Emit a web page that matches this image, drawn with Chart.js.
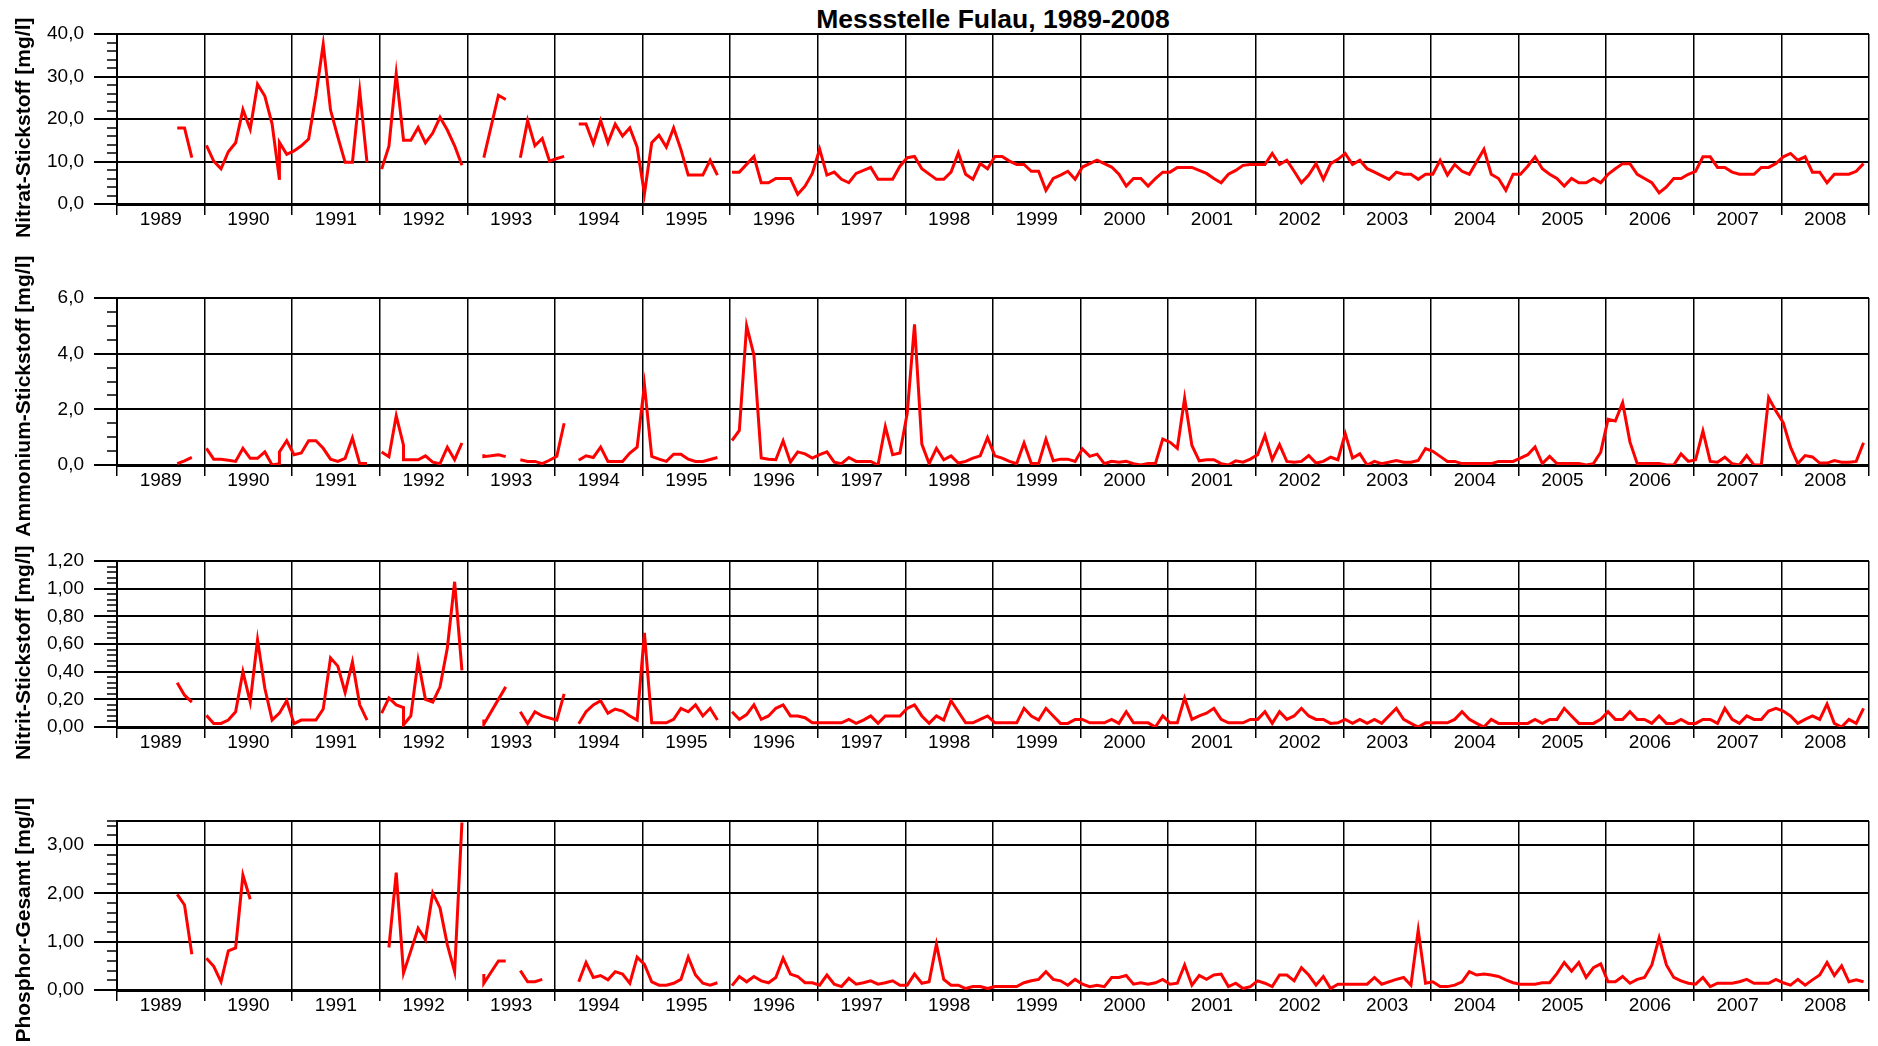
<!DOCTYPE html>
<html lang="de">
<head>
<meta charset="utf-8">
<title>Messstelle Fulau, 1989-2008</title>
<script src="https://cdn.jsdelivr.net/npm/chart.js"></script>
<style>
  html, body { margin: 0; padding: 0; background: #fff; overflow: hidden; }
  body { position: relative; width: 1878px; height: 1046px; }
  #title {
    position: absolute; left: 117px; width: 1752px; top: 4px;
    text-align: center; line-height: 30px; color: #000;
    font: bold 26.5px "Liberation Sans", Arial, Helvetica, sans-serif;
  }
  canvas { position: absolute; left: 0; }
</style>
</head>
<body>
<div id="title">Messstelle Fulau, 1989-2008</div>
<canvas id="nitrat"></canvas>
<canvas id="ammonium"></canvas>
<canvas id="nitrit"></canvas>
<canvas id="phosphor"></canvas>
<script>
// one row per year, one entry per month (Jan..Dec)
//   _      no sample, the line breaks
//   '-'    sample hidden on the straight line, the line continues
//   [a, b] two samples in the same month
const _ = null;

const years = [1989, 1990, 1991, 1992, 1993, 1994, 1995, 1996, 1997, 1998,
               1999, 2000, 2001, 2002, 2003, 2004, 2005, 2006, 2007, 2008];

const nitrat = [
  [_, _, _, _, _, _, _, _, 17.9, 17.9, 10.9, _],
  [13.8, 10.1, 8.3, 12.3, 14.4, 22.2, 17.6, 28.2, 25.4, 18.8, [5.7, 14.5], 11.7],
  [12.5, 13.7, 15.3, 25.6, 37.6, 22.1, 15.8, 9.8, 9.8, 26.6, 9.8, _],
  [8.2, 13.6, 30.7, 15.0, 15.0, 18.0, 14.4, 16.7, 20.4, 17.4, 13.7, 9.1],
  [_, _, 10.9, '-', 25.6, 24.6, _, 10.9, 19.6, 13.7, 15.4, 10.1],
  [10.7, 11.2, _, 18.8, 18.8, 14.2, 19.6, 14.4, 18.8, 16.0, 17.9, 13.4],
  [2.4, 14.4, 16.2, 13.4, 17.9, 12.8, 6.8, 6.8, 6.8, 10.3, 6.8, _],
  [7.5, 7.5, '-', 11.2, 5.0, 5.0, 6.0, 6.0, 6.0, 2.3, 4.2, 7.2],
  [12.9, 6.8, 7.5, 5.8, 5.0, 7.2, '-', 8.6, 5.8, 5.8, 5.8, 8.9],
  [10.9, 11.2, 8.3, '-', 5.8, 5.8, 7.5, 12.0, 7.0, 5.8, 9.5, 8.3],
  [11.2, 11.2, 10.1, 9.3, 9.3, 7.7, 7.7, 3.2, 6.0, 6.8, 7.7, 5.8],
  [8.7, '-', 10.3, 9.5, 8.7, 7.0, 4.2, 6.0, 6.0, 4.2, 6.0, 7.5],
  [7.5, 8.6, 8.6, 8.6, '-', 7.2, 6.0, 5.0, 7.0, 7.9, 9.1, 9.3],
  [9.3, 9.3, 11.9, 9.3, 10.3, 7.7, 5.0, 6.8, 9.5, 5.8, 9.5, 10.5],
  [11.9, 9.3, 10.3, 8.3, 7.5, '-', 5.8, 7.5, 7.0, 7.0, 5.8, 7.0],
  [7.0, 10.3, 6.8, 9.3, 7.7, 7.0, '-', 12.9, 7.0, 6.0, 3.2, 7.0],
  [7.0, 8.9, 11.1, 8.3, 7.0, 6.0, 4.2, 6.0, 5.0, 5.0, 6.0, 5.0],
  [7.0, 8.3, 9.5, 9.5, 7.0, 6.0, 5.0, 2.6, 4.0, 6.0, 6.0, 7.0],
  [7.7, 11.1, 11.1, 8.6, 8.6, 7.5, 7.0, 7.0, 7.0, 8.6, 8.6, 9.5],
  [11.1, 11.9, 10.3, 11.1, 7.5, 7.5, 5.0, 7.0, 7.0, 7.0, 7.7, 9.5]
];

const ammonium = [
  [_, _, _, _, _, _, _, _, 0.05, 0.15, 0.27, _],
  [0.60, 0.21, 0.21, 0.17, 0.13, 0.60, 0.24, 0.24, 0.47, 0.00, [0.05, 0.47], 0.87],
  [0.37, 0.43, 0.87, 0.87, 0.60, 0.21, 0.13, 0.24, 0.97, 0.05, 0.05, _],
  [0.47, 0.30, 1.77, [0.70, 0.19], 0.19, 0.19, 0.33, 0.10, 0.05, 0.64, 0.19, 0.79],
  [_, _, [0.39, 0.30], 0.33, 0.37, 0.30, _, 0.19, 0.13, 0.13, 0.05, 0.17],
  [0.31, 1.50, _, 0.17, 0.33, 0.27, 0.64, 0.13, 0.13, 0.13, 0.43, 0.64],
  [2.88, 0.31, 0.21, 0.13, 0.39, 0.39, 0.21, 0.13, 0.13, 0.20, 0.27, _],
  [0.88, 1.24, 5.00, 3.95, 0.25, 0.21, 0.19, 0.87, 0.10, 0.47, 0.40, 0.25],
  [0.37, 0.47, 0.10, 0.05, 0.27, 0.13, 0.13, 0.13, 0.00, 1.38, 0.37, 0.43],
  [1.86, 5.05, 0.75, 0.05, 0.60, 0.19, 0.33, 0.07, 0.13, 0.25, 0.33, 0.99],
  [0.33, 0.25, 0.13, 0.05, 0.79, 0.05, 0.05, 0.93, 0.15, 0.21, 0.21, 0.13],
  [0.58, 0.31, 0.39, 0.05, 0.13, 0.10, 0.13, 0.05, 0.00, 0.05, 0.05, 0.93],
  [0.82, 0.60, 2.40, 0.70, 0.15, 0.19, 0.19, 0.05, 0.00, 0.15, 0.10, 0.21],
  [0.37, 1.06, 0.19, 0.73, 0.13, 0.10, 0.13, 0.34, 0.07, 0.13, 0.28, 0.19],
  [1.13, 0.25, 0.40, 0.00, 0.13, 0.05, '-', 0.16, 0.10, 0.10, 0.16, 0.59],
  [0.49, 0.31, 0.13, 0.13, 0.05, 0.05, 0.05, 0.05, 0.05, 0.13, 0.13, 0.13],
  [0.25, 0.37, 0.65, 0.05, 0.31, 0.05, 0.05, 0.05, 0.05, 0.00, 0.05, 0.46],
  [1.64, 1.58, 2.24, 0.83, 0.05, 0.05, 0.05, 0.05, 0.00, 0.00, 0.40, 0.13],
  [0.19, 1.22, 0.13, 0.10, 0.28, 0.05, 0.00, 0.34, 0.00, 0.00, 2.42, 1.94],
  [1.52, 0.64, 0.05, 0.34, 0.29, 0.07, 0.07, 0.16, 0.10, 0.10, 0.13, 0.80]
];

const nitrit = [
  [_, _, _, _, _, _, _, _, 0.32, 0.23, 0.18, _],
  [0.084, 0.026, 0.026, 0.05, 0.11, 0.40, 0.18, 0.63, 0.28, 0.05, 0.10, 0.19],
  [0.024, 0.05, 0.05, 0.05, 0.13, 0.50, 0.44, 0.25, 0.47, 0.16, 0.05, _],
  [0.10, 0.21, 0.16, [0.14, 0.015], 0.08, 0.48, 0.20, 0.18, 0.29, 0.57, 1.05, 0.41],
  [_, _, [0.055, 0.02], '-', '-', 0.29, _, 0.11, 0.024, 0.11, 0.08, '-'],
  [0.05, 0.24, _, 0.024, 0.11, 0.16, 0.19, 0.10, 0.13, 0.115, 0.08, 0.05],
  [0.68, 0.03, 0.03, 0.03, 0.055, 0.135, 0.11, 0.16, 0.08, 0.135, 0.05, _],
  [0.11, 0.055, 0.09, 0.16, 0.055, 0.08, 0.135, 0.16, 0.08, 0.08, 0.067, 0.03],
  [0.03, 0.03, 0.03, 0.03, 0.055, 0.026, 0.05, 0.08, 0.026, 0.08, 0.08, 0.08],
  [0.135, 0.16, 0.08, 0.026, 0.08, 0.05, 0.19, '-', 0.03, 0.03, 0.055, 0.08],
  [0.03, 0.03, 0.03, 0.03, 0.135, 0.08, 0.05, 0.135, 0.08, 0.026, 0.026, 0.055],
  [0.055, 0.03, 0.03, 0.03, 0.055, 0.026, 0.11, 0.03, 0.03, 0.03, 0.00, 0.08],
  [0.03, 0.03, 0.21, 0.055, 0.08, 0.10, 0.135, 0.055, 0.03, 0.03, 0.03, 0.055],
  [0.055, 0.11, 0.026, 0.11, 0.055, 0.08, 0.135, 0.08, 0.055, 0.055, 0.026, 0.03],
  [0.055, 0.026, 0.055, 0.026, 0.055, 0.026, '-', 0.135, 0.055, 0.026, 0.00, 0.03],
  [0.03, 0.03, 0.03, 0.055, 0.11, 0.055, 0.026, 0.00, 0.055, 0.026, 0.026, 0.026],
  [0.026, 0.026, 0.055, 0.026, 0.055, 0.055, 0.135, 0.08, 0.026, 0.026, 0.026, 0.055],
  [0.11, 0.055, 0.055, 0.11, 0.055, 0.055, 0.026, 0.08, 0.026, 0.026, 0.055, 0.026],
  [0.026, 0.055, 0.055, 0.026, 0.135, 0.055, 0.026, 0.08, 0.055, 0.055, 0.115, 0.135],
  [0.115, 0.08, 0.026, 0.055, 0.08, 0.055, 0.165, 0.026, 0.00, 0.055, 0.026, 0.135]
];

const phosphor = [
  [_, _, _, _, _, _, _, _, 1.98, 1.76, 0.74, _],
  [0.66, 0.49, 0.17, 0.81, 0.87, 2.38, 1.88, _, _, _, _, _],
  [_, _, _, _, _, _, _, _, _, _, _, _],
  [_, 0.88, 2.43, 0.35, 0.81, 1.28, 1.04, 2.01, 1.70, 0.94, 0.38, 3.47],
  [_, _, [0.33, 0.14], '-', 0.60, 0.60, _, 0.40, 0.17, 0.17, 0.22, _],
  [_, _, _, 0.17, 0.57, 0.26, 0.30, 0.21, 0.38, 0.33, 0.14, 0.68],
  [0.53, 0.17, 0.10, 0.10, 0.14, 0.22, 0.68, 0.31, 0.14, 0.10, 0.15, _],
  [0.09, 0.28, 0.17, 0.28, 0.19, 0.15, 0.26, 0.66, 0.33, 0.28, 0.15, 0.15],
  [0.10, 0.31, 0.12, 0.07, 0.24, 0.12, 0.15, 0.19, 0.12, 0.15, 0.19, 0.10],
  [0.10, 0.33, 0.14, 0.17, 0.95, 0.22, 0.10, 0.10, 0.03, 0.07, 0.07, 0.03],
  [0.07, 0.07, 0.07, 0.07, 0.15, 0.19, 0.22, 0.38, 0.22, 0.19, 0.10, 0.22],
  [0.12, 0.07, 0.10, 0.07, 0.26, 0.26, 0.30, 0.12, 0.15, 0.12, 0.15, 0.22],
  [0.12, 0.14, 0.52, 0.10, 0.30, 0.22, 0.31, 0.33, 0.07, 0.14, 0.03, 0.07],
  [0.19, 0.14, 0.07, 0.31, 0.31, 0.19, 0.46, 0.31, 0.10, 0.28, 0.03, 0.12],
  [0.12, 0.12, 0.12, 0.12, 0.26, 0.12, '-', 0.22, 0.26, 0.10, 1.24, 0.14],
  [0.17, 0.07, 0.07, 0.10, 0.17, 0.38, 0.31, 0.33, 0.31, 0.28, 0.21, 0.15],
  [0.12, 0.12, 0.12, 0.15, 0.15, 0.34, 0.57, 0.39, 0.57, 0.26, 0.46, 0.54],
  [0.17, 0.17, 0.28, 0.14, 0.22, 0.26, 0.52, 1.08, 0.52, 0.26, 0.19, 0.14],
  [0.12, 0.26, 0.07, 0.14, 0.14, 0.14, 0.17, 0.22, 0.14, 0.14, 0.14, 0.22],
  [0.15, 0.10, 0.22, 0.10, 0.21, 0.31, 0.57, 0.30, 0.50, 0.17, 0.21, 0.17]
];

// y-axis ranges: labelled every `major`, short ticks every `minor`
const panels = [
  { id: 'nitrat',   title: 'Nitrat-Stickstoff [mg/l]',   rows: nitrat,   max: 40,  step: 2,    minor: 2,    major: 10,  digits: 1 },
  { id: 'ammonium', title: 'Ammonium-Stickstoff [mg/l]', rows: ammonium, max: 6,   step: 0.5,  minor: 0.5,  major: 2,   digits: 1 },
  { id: 'nitrit',   title: 'Nitrit-Stickstoff [mg/l]',   rows: nitrit,   max: 1.2, step: 0.04, minor: 0.04, major: 0.2, digits: 2 },
  { id: 'phosphor', title: 'Phosphor-Gesamt [mg/l]',     rows: phosphor, max: 3.5, step: 0.1,  minor: 0.2,  major: 1,   digits: 2 }
];

// plot area of each panel on the page (top, bottom in px)
const plotBoxes = [[34, 204], [298, 465], [561, 727], [821, 990]];
// axis titles sit a little below the middle of the plot: trailing no-break spaces
const titleNudge = [3, 5, 3, 5];

const FONT = '"Liberation Sans", Arial, Helvetica, sans-serif';
const PAGE_W = 1878, PLOT_LEFT = 117, PLOT_RIGHT = 1869;
const PAD_TOP = 90, PAD_BOTTOM = 60, X_AXIS_H = 40;
const SAMPLE_DAY = 0.25; // samples were taken early in each month

Chart.defaults.font.family = FONT;
Chart.defaults.color = '#000';

function toPoints(rows) {
  const pts = [];
  rows.forEach((row, yi) => {
    row.forEach((v, m) => {
      if (v === '-') return;
      const x = years[yi] + (m + SAMPLE_DAY) / 12;
      [].concat(v).forEach(y => pts.push({ x, y }));
    });
  });
  return pts;
}

function isMultiple(v, step) {
  const q = v / step;
  return Math.abs(q - Math.round(q)) < 1e-6;
}

panels.forEach((p, i) => {
  const [top, bottom] = plotBoxes[i];
  const canvas = document.getElementById(p.id);
  canvas.width = PAGE_W;
  canvas.height = PAD_TOP + (bottom - top) + X_AXIS_H + PAD_BOTTOM;
  canvas.style.top = (top - PAD_TOP) + 'px';

  const major = v => isMultiple(v, p.major);
  const ruled = v => major(v) || Math.abs(v - p.max) < 1e-9;

  new Chart(canvas, {
    type: 'line',
    data: {
      datasets: [{
        data: toPoints(p.rows),
        borderColor: '#ff0000',
        borderWidth: 3,
        pointRadius: 0,
        pointHoverRadius: 0,
        fill: false,
        tension: 0,
        spanGaps: false
      }]
    },
    options: {
      responsive: false,
      animation: false,
      devicePixelRatio: 1,
      events: [],
      layout: {
        padding: { top: PAD_TOP, bottom: PAD_BOTTOM, left: 0, right: PAGE_W - PLOT_RIGHT }
      },
      plugins: {
        legend: { display: false },
        tooltip: { enabled: false }
      },
      scales: {
        x: {
          type: 'linear',
          min: 1989,
          max: 2009,
          afterFit: s => { s.height = X_AXIS_H; },
          border: { display: true, color: '#000', width: 3 },
          grid: {
            color: ctx => (ctx.tick && Number.isInteger(ctx.tick.value)) ? '#000' : 'rgba(0,0,0,0)',
            lineWidth: 1.5,
            tickLength: 11
          },
          ticks: {
            stepSize: 0.5,
            autoSkip: false,
            maxRotation: 0,
            minRotation: 0,
            padding: -7,
            color: '#000',
            font: { size: 19 },
            callback: v => Number.isInteger(v) ? '' : String(Math.floor(v))
          }
        },
        y: {
          type: 'linear',
          min: 0,
          max: p.max,
          afterFit: s => { s.width = PLOT_LEFT; },
          border: { display: true, color: '#000', width: 2 },
          grid: {
            color: ctx => (ctx.tick && ruled(ctx.tick.value)) ? '#000' : 'rgba(0,0,0,0)',
            lineWidth: 2,
            tickLength: 23,
            tickColor: ctx => (ctx.tick && (ruled(ctx.tick.value) || isMultiple(ctx.tick.value, p.minor))) ? '#000' : 'rgba(0,0,0,0)',
            tickWidth: ctx => (ctx.tick && major(ctx.tick.value)) ? 2 : 1.5,
            // minor ticks: only the inner 10px of the tick mark
            tickBorderDash: ctx => (ctx.tick && major(ctx.tick.value)) ? [] : [0, 13, 40]
          },
          ticks: {
            stepSize: p.step,
            autoSkip: false,
            padding: 10,
            color: '#000',
            font: { size: 19 },
            callback: v => major(v) ? v.toFixed(p.digits).replace('.', ',') : ''
          },
          title: {
            display: true,
            text: p.title + '\u00A0'.repeat(titleNudge[i]),
            color: '#000',
            font: { size: 21, weight: 'bold' },
            padding: { top: 12, bottom: 0 }
          }
        }
      }
    }
  });
});
</script>
</body>
</html>
